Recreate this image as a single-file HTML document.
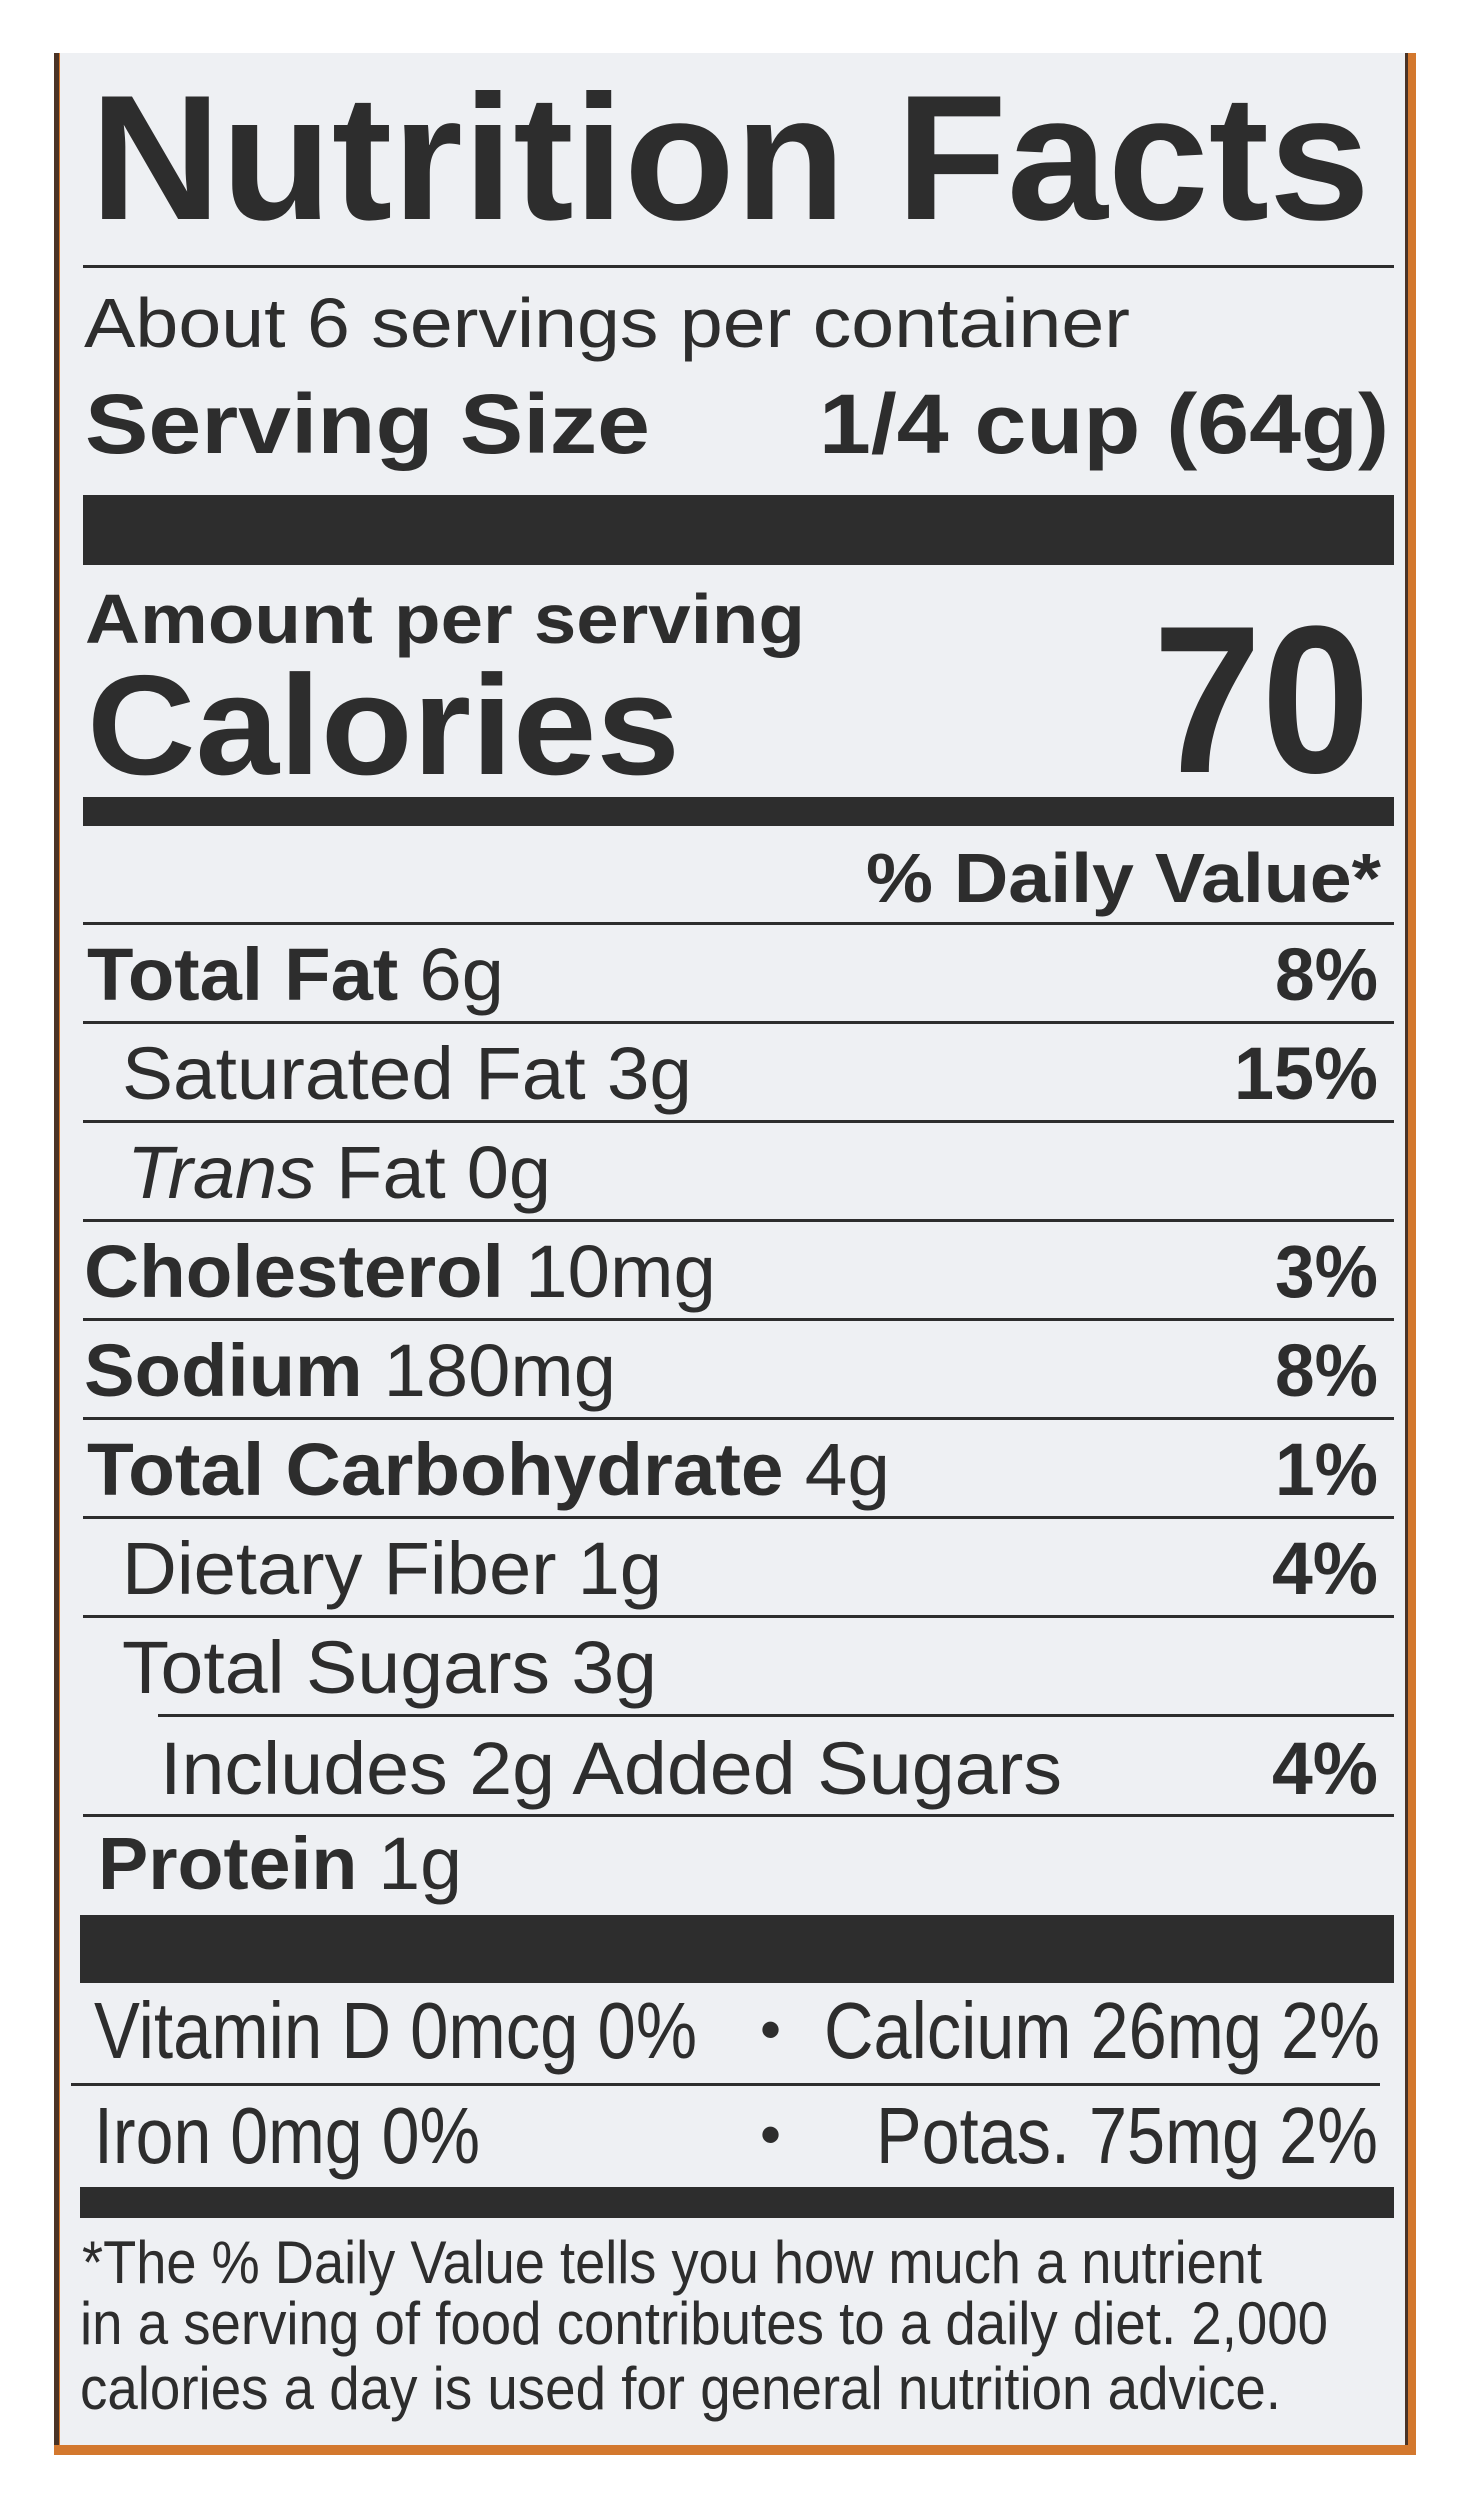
<!DOCTYPE html>
<html><head><meta charset="utf-8"><style>
html,body{margin:0;padding:0;background:#fff}
svg{display:block}
text{font-family:"Liberation Sans",Arial,sans-serif;fill:#2d2d2d}
.b{font-weight:bold}
</style></head><body>
<svg width="1476" height="2500" viewBox="0 0 1476 2500" xmlns="http://www.w3.org/2000/svg">
<rect x="0" y="0" width="1476" height="2500" fill="#ffffff"/>
<rect x="54" y="53" width="1362" height="2402" fill="#d3782e"/>
<rect x="60" y="53" width="1345" height="2392" fill="#eef0f3"/>
<rect x="54" y="53" width="5" height="2392" fill="#4a3325"/>
<rect x="1405" y="53" width="3" height="2392" fill="#4a3325"/>

<text class="b" x="90" y="219" font-size="178" textLength="1280" lengthAdjust="spacingAndGlyphs">Nutrition Facts</text>
<rect x="83" y="265" width="1311" height="3" fill="#2d2d2d"/>

<text x="84" y="347" font-size="70" textLength="1046" lengthAdjust="spacingAndGlyphs">About 6 servings per container</text>
<text class="b" x="85" y="453" font-size="84" textLength="565" lengthAdjust="spacingAndGlyphs">Serving Size</text>
<text class="b" x="819" y="453" font-size="84" textLength="570" lengthAdjust="spacingAndGlyphs">1/4 cup (64g)</text>
<rect x="83" y="495" width="1311" height="70" fill="#2d2d2d"/>

<text class="b" x="85" y="643" font-size="70" textLength="720" lengthAdjust="spacingAndGlyphs">Amount per serving</text>
<text class="b" x="87" y="774" font-size="142" textLength="593" lengthAdjust="spacingAndGlyphs">Calories</text>
<text class="b" x="1153" y="772" font-size="210" textLength="217" lengthAdjust="spacingAndGlyphs">70</text>
<rect x="83" y="797" width="1311" height="29" fill="#2d2d2d"/>

<text class="b" x="866" y="902" font-size="70" textLength="515" lengthAdjust="spacingAndGlyphs">% Daily Value*</text>
<rect x="83" y="922" width="1311" height="3" fill="#2d2d2d"/>

<g font-size="74">
<text x="87" y="1000" textLength="417" lengthAdjust="spacingAndGlyphs"><tspan class="b">Total Fat</tspan> 6g</text>
<text class="b" x="1275" y="1000" textLength="103" lengthAdjust="spacingAndGlyphs">8%</text>
<rect x="83" y="1021" width="1311" height="3" fill="#2d2d2d"/>

<text x="122" y="1099" textLength="570" lengthAdjust="spacingAndGlyphs">Saturated Fat 3g</text>
<text class="b" x="1234" y="1099" textLength="144" lengthAdjust="spacingAndGlyphs">15%</text>
<rect x="83" y="1120" width="1311" height="3" fill="#2d2d2d"/>

<text x="127" y="1198" textLength="424" lengthAdjust="spacingAndGlyphs"><tspan font-style="italic">Trans</tspan> Fat 0g</text>
<rect x="83" y="1219" width="1311" height="3" fill="#2d2d2d"/>

<text x="84" y="1297" textLength="632" lengthAdjust="spacingAndGlyphs"><tspan class="b">Cholesterol</tspan> 10mg</text>
<text class="b" x="1275" y="1297" textLength="103" lengthAdjust="spacingAndGlyphs">3%</text>
<rect x="83" y="1318" width="1311" height="3" fill="#2d2d2d"/>

<text x="84" y="1396" textLength="532" lengthAdjust="spacingAndGlyphs"><tspan class="b">Sodium</tspan> 180mg</text>
<text class="b" x="1275" y="1396" textLength="103" lengthAdjust="spacingAndGlyphs">8%</text>
<rect x="83" y="1417" width="1311" height="3" fill="#2d2d2d"/>

<text x="87" y="1495" textLength="803" lengthAdjust="spacingAndGlyphs"><tspan class="b">Total Carbohydrate</tspan> 4g</text>
<text class="b" x="1275" y="1495" textLength="103" lengthAdjust="spacingAndGlyphs">1%</text>
<rect x="83" y="1516" width="1311" height="3" fill="#2d2d2d"/>

<text x="122" y="1594" textLength="540" lengthAdjust="spacingAndGlyphs">Dietary Fiber 1g</text>
<text class="b" x="1272" y="1594" textLength="106" lengthAdjust="spacingAndGlyphs">4%</text>
<rect x="83" y="1615" width="1311" height="3" fill="#2d2d2d"/>

<text x="122" y="1693" textLength="535" lengthAdjust="spacingAndGlyphs">Total Sugars 3g</text>
<rect x="158" y="1714" width="1236" height="3" fill="#2d2d2d"/>

<text x="160" y="1794" textLength="902" lengthAdjust="spacingAndGlyphs">Includes 2g Added Sugars</text>
<text class="b" x="1272" y="1794" textLength="106" lengthAdjust="spacingAndGlyphs">4%</text>
<rect x="83" y="1814" width="1311" height="3" fill="#2d2d2d"/>

<text x="98" y="1889" textLength="364" lengthAdjust="spacingAndGlyphs"><tspan class="b">Protein</tspan> 1g</text>
</g>
<rect x="80" y="1915" width="1314" height="68" fill="#2d2d2d"/>

<g font-size="80">
<text x="94" y="2058" textLength="603" lengthAdjust="spacingAndGlyphs">Vitamin D 0mcg 0%</text>
<text x="760" y="2050" font-size="60">•</text>
<text x="824" y="2058" textLength="556" lengthAdjust="spacingAndGlyphs">Calcium 26mg 2%</text>
<rect x="71" y="2083" width="1309" height="3" fill="#2d2d2d"/>
<text x="94" y="2163" textLength="386" lengthAdjust="spacingAndGlyphs">Iron 0mg 0%</text>
<text x="760" y="2155" font-size="60">•</text>
<text x="876" y="2163" textLength="502" lengthAdjust="spacingAndGlyphs">Potas. 75mg 2%</text>
</g>
<rect x="80" y="2187" width="1314" height="31" fill="#2d2d2d"/>

<g font-size="60">
<text x="82" y="2283" textLength="1180" lengthAdjust="spacingAndGlyphs">*The % Daily Value tells you how much a nutrient</text>
<text x="80" y="2344" textLength="1248" lengthAdjust="spacingAndGlyphs">in a serving of food contributes to a daily diet. 2,000</text>
<text x="80" y="2409" textLength="1201" lengthAdjust="spacingAndGlyphs">calories a day is used for general nutrition advice.</text>
</g>
</svg>
</body></html>
